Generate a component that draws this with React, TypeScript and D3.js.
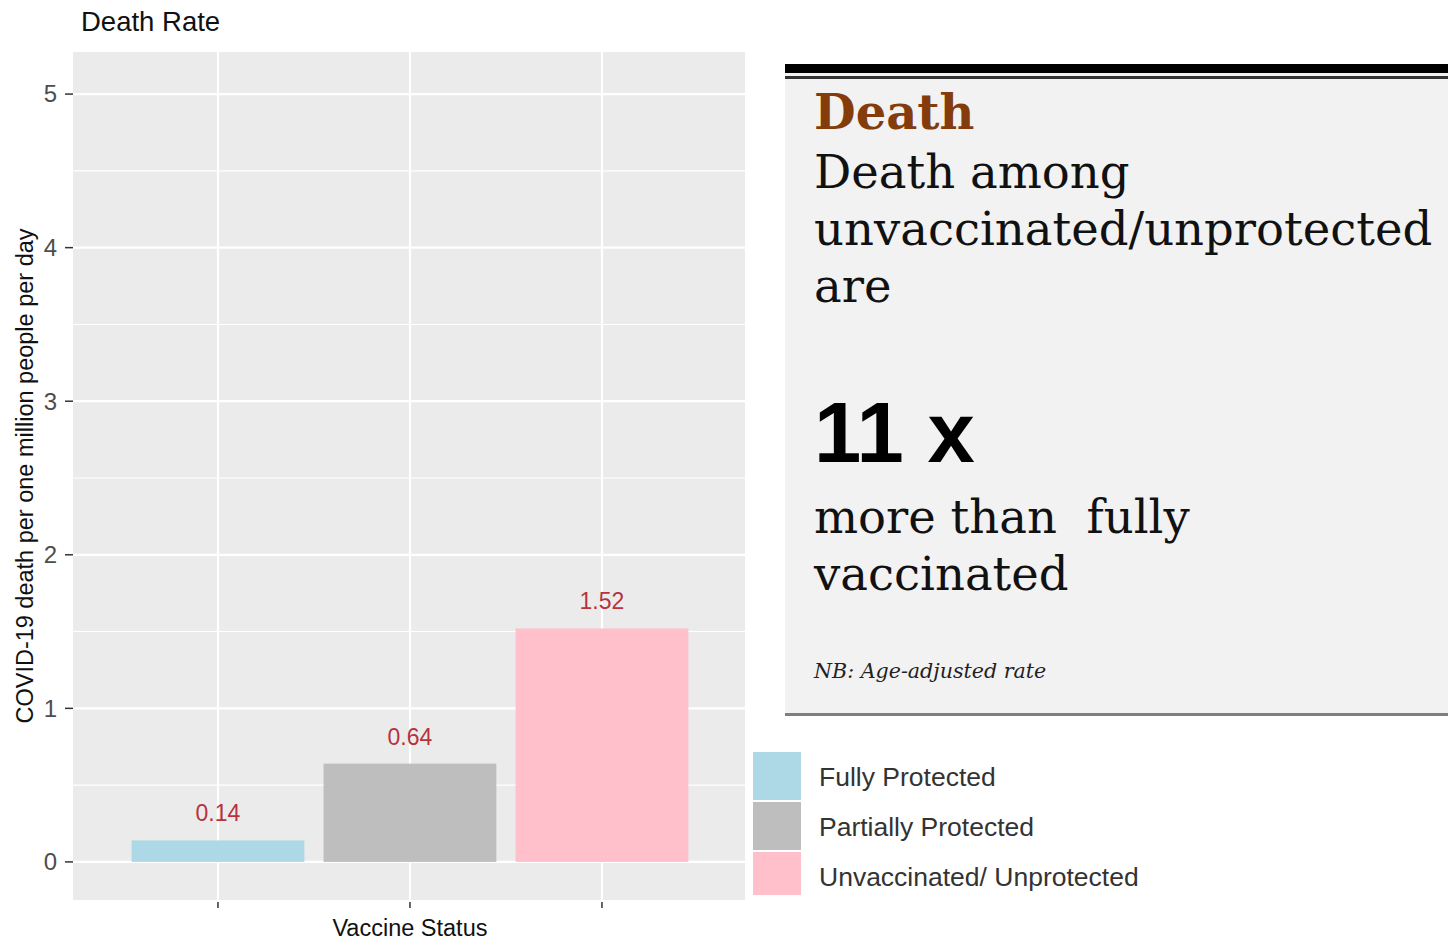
import React from "react";
import * as d3 from "d3";

const categories = ["Fully Protected", "Partially Protected", "Unvaccinated/ Unprotected"];
const values = [0.14, 0.64, 1.52];
const labels = ["0.14", "0.64", "1.52"];
const colors = ["#ADD8E6", "#BEBEBE", "#FFC0CB"];
const yTicks = [0, 1, 2, 3, 4, 5];
const yMinor = [0.5, 1.5, 2.5, 3.5, 4.5];

const W = 1448;
const H = 940;
const panel = { left: 73, right: 745, top: 52, bottom: 900 };

export default function App() {
  const y = d3.scaleLinear().domain([-0.248, 5.274]).range([panel.bottom, panel.top]);
  const x = d3.scaleLinear().domain([-0.755, 2.745]).range([panel.left, panel.right]);
  const bw = 0.9;
  const sans = "'Liberation Sans', Arial, sans-serif";
  const serif = "'DejaVu Serif', serif";

  return (
    <div style={{ position: "absolute", left: 0, top: 0 }}>
      <svg width={W} height={H} style={{ display: "block", background: "#fff" }}>
        {/* Title */}
        <text x={81} y={31} fontFamily={sans} fontSize={27.5} fill="#111">Death Rate</text>

        {/* panel */}
        <rect x={panel.left} y={panel.top} width={panel.right - panel.left} height={panel.bottom - panel.top} fill="#EBEBEB" />
        {yMinor.map((v) => (
          <line key={"m" + v} x1={panel.left} x2={panel.right} y1={y(v)} y2={y(v)} stroke="#fff" strokeWidth={1.1} />
        ))}
        {yTicks.map((v) => (
          <line key={"g" + v} x1={panel.left} x2={panel.right} y1={y(v)} y2={y(v)} stroke="#fff" strokeWidth={2.2} />
        ))}
        {categories.map((c, i) => (
          <line key={"gx" + i} x1={x(i)} x2={x(i)} y1={panel.top} y2={panel.bottom} stroke="#fff" strokeWidth={2.2} />
        ))}

        {/* bars */}
        {values.map((v, i) => (
          <rect key={"b" + i} x={x(i - bw / 2)} width={x(bw) - x(0)} y={y(v)} height={y(0) - y(v)} fill={colors[i]} />
        ))}
        {values.map((v, i) => (
          <text key={"l" + i} x={x(i)} y={y(v) - 19} textAnchor="middle" fontFamily={sans} fontSize={23} fill="#B8323C">
            {labels[i]}
          </text>
        ))}

        {/* y axis */}
        {yTicks.map((v) => (
          <g key={"yt" + v}>
            <line x1={panel.left - 8} x2={panel.left} y1={y(v)} y2={y(v)} stroke="#333" strokeWidth={1.5} />
            <text x={panel.left - 16} y={y(v)} dy="0.35em" textAnchor="end" fontFamily={sans} fontSize={24} fill="#4D4D4D">
              {v}
            </text>
          </g>
        ))}
        <text
          transform={`translate(33, ${(y(0) + y(5)) / 2 - 2}) rotate(-90)`}
          textAnchor="middle"
          fontFamily={sans}
          fontSize={23.5}
          fill="#111"
        >
          COVID-19 death per one million people per day
        </text>

        {/* x axis */}
        {categories.map((c, i) => (
          <line key={"xt" + i} x1={x(i)} x2={x(i)} y1={panel.bottom + 2} y2={panel.bottom + 8} stroke="#333" strokeWidth={1.5} />
        ))}
        <text x={x(1)} y={936} textAnchor="middle" fontFamily={sans} fontSize={23.5} fill="#111">Vaccine Status</text>

        {/* text box */}
        <rect x={785} y={64} width={W - 785} height={650} fill="#F2F2F2" />
        <rect x={785} y={64} width={W - 785} height={9} fill="#000" />
        <rect x={785} y={76} width={W - 785} height={3} fill="#333" />
        <rect x={785} y={713} width={W - 785} height={3} fill="#7F7F7F" />
        <text x={814} y={129} fontFamily={serif} fontWeight="bold" fontSize={48} fill="#843C0C">Death</text>
        <text fontFamily={serif} fontSize={46.5} fill="#111">
          <tspan x={814} y={188}>Death among</tspan>
          <tspan x={814} y={245}>unvaccinated/unprotected</tspan>
          <tspan x={814} y={302}>are</tspan>
        </text>
        <text x={814} y={462} fontFamily={sans} fontWeight="bold" fontSize={85} fill="#000">11 x</text>
        <text fontFamily={serif} fontSize={46.5} fill="#111">
          <tspan x={814} y={533} style={{ whiteSpace: "pre" }}>more than  fully</tspan>
          <tspan x={814} y={590}>vaccinated</tspan>
        </text>
        <text x={814} y={678} fontFamily={serif} fontStyle="italic" fontSize={20.6} fill="#222">NB: Age-adjusted rate</text>

        {/* legend */}
        {categories.map((c, i) => (
          <g key={"lg" + i}>
            <rect x={753} y={752 + i * 50} width={48} height={i === 2 ? 43 : 48} fill={colors[i]} />
            <text x={819} y={777 + i * 50} dy="0.35em" fontFamily={sans} fontSize={26.5} fill="#333">
              {c}
            </text>
          </g>
        ))}
      </svg>
    </div>
  );
}
